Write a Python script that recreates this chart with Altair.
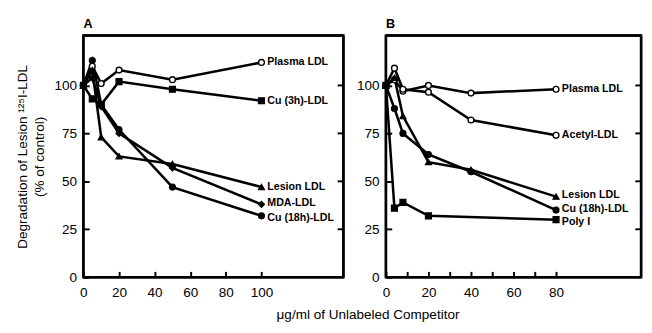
import altair as alt
import pandas as pd

FONT = "Liberation Sans"

# ---------- Panel A ----------
a_x = [0, 5, 10, 20, 50, 100]
a_names = ["Plasma LDL", "Cu (3h)-LDL", "Lesion LDL", "MDA-LDL", "Cu (18h)-LDL"]
a_plasma = [100, 110, 101, 108, 103, 112]
a_cu3h = [100, 93, 90, 102, 98, 92]
a_lesion = [100, 108, 73, 63, 59, 47]
a_mda = [100, 104, 89, 75, 57, 38]
a_cu18h = [100, 113, 90, 77, 47, 32]
a_label_y = [112, 92, 47, 38.5, 31]

# ---------- Panel B ----------
b_x = [0, 4, 8, 20, 40, 80]
b_names = ["Plasma LDL", "Acetyl-LDL", "Lesion LDL", "Cu (18h)-LDL", "Poly I"]
b_plasma = [100, 103, 97, 100, 96, 98]
b_acetyl = [100, 109, 98, 96.5, 82, 74]
b_lesion = [100, 104, 84, 60, 56, 42]
b_cu18h = [100, 88, 75, 64, 55, 35]
b_poly_x = [0, 4, 8, 20, 80]
b_poly = [100, 36, 39, 32, 30]
b_label_y = [98, 74, 43, 35.5, 28.5]

y_max = 126
a_xmax = 146
b_xmax = 120
y_ticks = [0, 25, 50, 75, 100]
y_right_ticks = [25, 50, 75, 100]
a_xticks = [0, 20, 40, 60, 80, 100]
b_xticks = [0, 10, 20, 30, 40, 50, 60, 70, 80]

shape_map = {
    "Plasma LDL": "circle",
    "Cu (3h)-LDL": "square",
    "Lesion LDL": "triangle-up",
    "MDA-LDL": "diamond",
    "Cu (18h)-LDL": "circle",
    "Acetyl-LDL": "triangle-up",
    "Poly I": "square",
}
fill_map = {k: ("white" if k == "Plasma LDL" else "black") for k in shape_map}


def long_df(pairs):
    rows = []
    for name, xs, ys in pairs:
        for i, (xv, yv) in enumerate(zip(xs, ys)):
            rows.append({"series": name, "x": xv, "y": yv, "order": i})
    return pd.DataFrame(rows)


df_a = long_df([
    ("Plasma LDL", a_x, a_plasma),
    ("Cu (3h)-LDL", a_x, a_cu3h),
    ("Lesion LDL", a_x, a_lesion),
    ("MDA-LDL", a_x, a_mda),
    ("Cu (18h)-LDL", a_x, a_cu18h),
])
df_b = long_df([
    ("Plasma LDL", b_x, b_plasma),
    ("Acetyl-LDL", b_x, b_acetyl),
    ("Lesion LDL", b_x, b_lesion),
    ("Cu (18h)-LDL", b_x, b_cu18h),
    ("Poly I", b_poly_x, b_poly),
])

YSCALE = alt.Scale(domain=[0, y_max], nice=False)
HEIGHT = 250


def panel(df, names, label_y, xmax, xticks, letter, width, show_ytitle):
    xscale = alt.Scale(domain=[0, xmax], nice=False, zero=True)
    X = alt.X(
        "x:Q", scale=xscale,
        axis=alt.Axis(
            values=xticks,
            labelExpr="datum.value % 20 == 0 ? datum.label : ''",
            offset=-6, tickSize=6, tickWidth=2, tickColor="black",
            labelPadding=9, domain=False, grid=False, title=None,
            labelFont=FONT, labelFontSize=14, labelColor="black",
            labelFlush=False, labelOverlap=False,
        ),
    )
    Y = alt.Y(
        "y:Q", scale=YSCALE,
        axis=alt.Axis(
            values=y_ticks, offset=-6, tickSize=6, tickWidth=2, tickColor="black",
            labelPadding=7, domain=False, grid=False,
            labelFont=FONT, labelFontSize=14, labelColor="black",
            title=["Degradation of Lesion ¹²⁵I-LDL", "(% of control)"] if show_ytitle else None,
            titleFont=FONT, titleFontSize=14, titleFontWeight="normal",
            titleColor="black", titlePadding=8, titleLineHeight=17,
            labelFlush=False,
        ),
    )
    base = alt.Chart(df)
    lines = base.mark_line(color="black", strokeWidth=2.6).encode(
        x=X, y=Y, detail="series:N", order="order:Q")
    points = base.mark_point(filled=True, size=36, opacity=1,
                             stroke="black", strokeWidth=1.4).encode(
        x=X, y=Y,
        shape=alt.Shape("series:N", legend=None,
                        scale=alt.Scale(domain=names, range=[shape_map[n] for n in names])),
        fill=alt.Fill("series:N", legend=None,
                      scale=alt.Scale(domain=names, range=[fill_map[n] for n in names])),
    )
    last = df.sort_values("order").groupby("series", as_index=False).last()
    last = last.set_index("series").loc[names].reset_index()
    last["y"] = label_y
    labels = alt.Chart(last).mark_text(
        align="left", baseline="middle", dx=6, font=FONT,
        fontSize=11, fontWeight="bold", color="black",
    ).encode(x=X, y=Y, text="series:N")
    right_ticks = alt.Chart(pd.DataFrame({"y": y_right_ticks})).mark_rule(
        color="black", strokeWidth=2).encode(
        y=Y, x=alt.value(width - 6), x2=alt.value(width))
    # frame edges as rules at the domain limits
    h_edges = alt.Chart(pd.DataFrame({"y": [0, y_max]})).mark_rule(
        color="black", strokeWidth=2.5).encode(
        y=Y, x=alt.value(0), x2=alt.value(width))
    v_edges = alt.Chart(pd.DataFrame({"x": [0, xmax]})).mark_rule(
        color="black", strokeWidth=2.5).encode(
        x=X, y=alt.value(0), y2=alt.value(HEIGHT))
    letter_layer = alt.Chart(pd.DataFrame({"t": [letter]})).mark_text(
        align="left", baseline="bottom", font=FONT, fontSize=13,
        fontWeight="bold", color="black", dy=-5,
    ).encode(x=alt.value(0), y=alt.value(0), text="t:N")
    return alt.layer(lines, points, labels, right_ticks, h_edges, v_edges,
                     letter_layer).properties(width=width, height=HEIGHT)


chart_a = panel(df_a, a_names, a_label_y, a_xmax, a_xticks, "A", 269, True)
chart_b = panel(df_b, b_names, b_label_y, b_xmax, b_xticks, "B", 264, False)

chart = alt.hconcat(chart_a, chart_b, spacing=9).properties(
    title=alt.TitleParams(
        "μg/ml  of  Unlabeled  Competitor", orient="bottom", anchor="middle",
        font=FONT, fontSize=14, fontWeight="normal", color="black",
        offset=8, dx=40,
    ),
    padding={"left": 7, "top": 3, "right": 0, "bottom": 0},
    background="white",
).configure_view(stroke="black", strokeWidth=2.5)

chart.save("out.html", embed_options={"renderer": "svg", "actions": False})
